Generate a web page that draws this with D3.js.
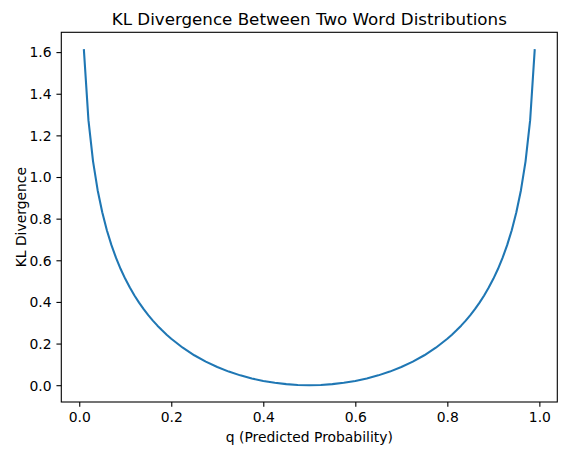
<!DOCTYPE html>
<html><head><meta charset="utf-8">
<script src="https://cdn.jsdelivr.net/npm/d3@7"></script>
<style>body{margin:0;background:#fff}svg{display:block}text{font-family:"DejaVu Sans",sans-serif;fill:#000}</style>
</head><body><svg id="c" width="567" height="455"></svg>
<script>
const qValues = [0.01,0.02,0.03,0.04,0.05,0.06,0.07,0.08,0.09,0.10,0.11,0.12,0.13,0.14,0.15,0.16,0.17,0.18,0.19,0.20,
  0.225,0.25,0.275,0.30,0.325,0.35,0.375,0.40,0.425,0.45,0.475,0.50,
  0.525,0.55,0.575,0.60,0.625,0.65,0.675,0.70,0.725,0.75,0.775,0.80,
  0.81,0.82,0.83,0.84,0.85,0.86,0.87,0.88,0.89,0.90,0.91,0.92,0.93,0.94,0.95,0.96,0.97,0.98,0.99];
const klValues = [1.6144,1.2730,1.0754,0.9367,0.8304,0.7445,0.6728,0.6114,0.5580,0.5108,0.4688,0.4309,0.3966,0.3653,0.3367,0.3103,0.2860,0.2635,0.2426,0.2231,
  0.1801,0.1438,0.1131,0.0872,0.0653,0.0472,0.0323,0.0204,0.0114,0.0050,0.0013,0.0000,
  0.0013,0.0050,0.0114,0.0204,0.0323,0.0472,0.0653,0.0872,0.1131,0.1438,0.1801,0.2231,
  0.2426,0.2635,0.2860,0.3103,0.3367,0.3653,0.3966,0.4309,0.4688,0.5108,0.5580,0.6114,0.6728,0.7445,0.8304,0.9367,1.0754,1.2730,1.6144];
const xTicks = [0.0,0.2,0.4,0.6,0.8,1.0];
const yTicks = [0.0,0.2,0.4,0.6,0.8,1.0,1.2,1.4,1.6];

const svg = d3.select("#c");
const L=61.3, R=557.3, T=32.3, B=402;
const xmin=d3.min(qValues), xmax=d3.max(qValues), xm=(xmax-xmin)*0.05;
const ymin=d3.min(klValues), ymax=d3.max(klValues), ym=(ymax-ymin)*0.05;
const x=d3.scaleLinear().domain([xmin-xm,xmax+xm]).range([L,R]);
const y=d3.scaleLinear().domain([ymin-ym,ymax+ym]).range([B,T]);

const line=d3.line().x((d,i)=>x(qValues[i])).y(d=>y(d));
svg.append("path").datum(klValues).attr("d",line).attr("fill","none")
  .attr("stroke","#1f77b4").attr("stroke-width",2.08).attr("stroke-linejoin","round").attr("stroke-linecap","butt");

const fmt=d3.format(".1f");
const xa=svg.append("g").attr("transform",`translate(0,${B})`)
  .call(d3.axisBottom(x).tickValues(xTicks).tickFormat(fmt).tickSize(4.86).tickPadding(4.86));
const ya=svg.append("g").attr("transform",`translate(${L},0)`)
  .call(d3.axisLeft(y).tickValues(yTicks).tickFormat(fmt).tickSize(4.86).tickPadding(4.86));
[xa,ya].forEach(a=>{a.select(".domain").remove();a.selectAll("line").attr("stroke","#000").attr("stroke-width",1.1);
  a.selectAll("text").attr("font-size","13.9px").attr("font-family","DejaVu Sans");});
xa.selectAll("text").attr("dy","0.75em").attr("y",9.2);
ya.selectAll("text").attr("dy","0.35em");

svg.append("rect").attr("x",L).attr("y",T).attr("width",R-L).attr("height",B-T)
  .attr("fill","none").attr("stroke","#000").attr("stroke-width",1.1);

svg.append("text").attr("x",(L+R)/2).attr("y",24.5).attr("text-anchor","middle")
  .attr("font-size","16.7px").text("KL Divergence Between Two Word Distributions");
svg.append("text").attr("x",(L+R)/2).attr("y",441.5).attr("text-anchor","middle")
  .attr("font-size","13.9px").text("q (Predicted Probability)");
svg.append("text").attr("transform",`translate(25.5,${(T+B)/2}) rotate(-90)`).attr("text-anchor","middle")
  .attr("font-size","13.9px").text("KL Divergence");
</script></body></html>
